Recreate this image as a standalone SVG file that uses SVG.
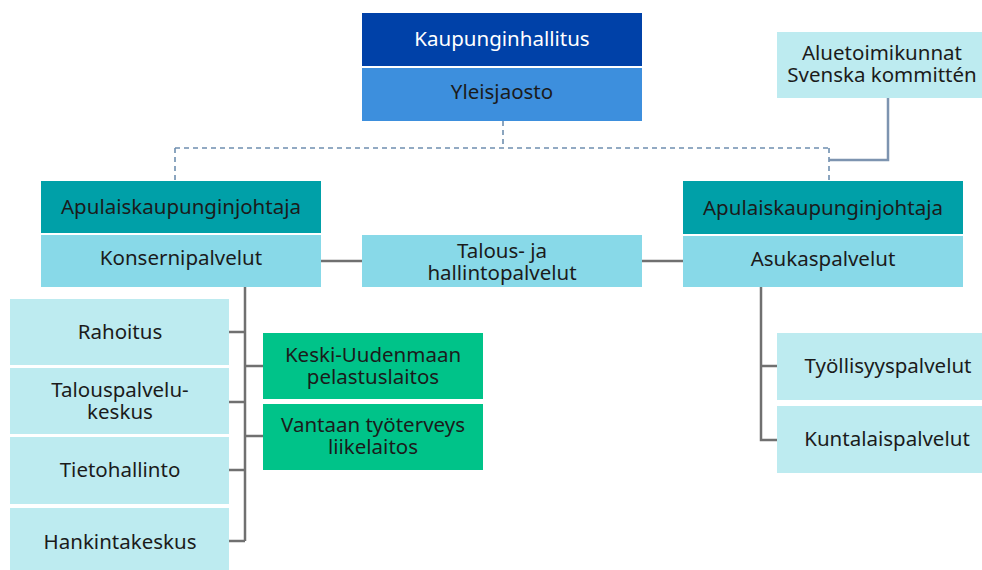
<svg xmlns="http://www.w3.org/2000/svg" width="982" height="570" viewBox="0 0 982 570">
<style>
text{font-family:"Noto Sans","Liberation Sans",sans-serif;font-size:20.5px;fill:#1b1b1b;text-anchor:middle}
.w{fill:#ffffff}
.lb{fill:#bdebf0}
.md{fill:#88d9e8}
.tl{fill:#00a0a8}
.gr{fill:#00c389}
.c{stroke:#707070;stroke-width:2.5;fill:none}
.d{stroke:#6f8fb0;stroke-width:1.6;fill:none;stroke-dasharray:5 4}
.s{stroke:#7d94b0;stroke-width:2.5;fill:none}
</style>
<g id="connectors">
<path class="d" d="M503 121V148M175 148H829M175 148V181M829 148V181"/>
<path class="s" d="M888 98V160H829"/>
<path class="c" d="M321 261H362M642 261H683"/>
<path class="c" d="M245 287V541M229 332H245M229 402H245M229 470H245M229 541H245M245 366H263M245 436H263"/>
<path class="c" d="M761 287V440H777M761 366H777"/>
</g>
<g id="kaupunginhallitus"><rect x="362" y="13" width="280" height="53" fill="#0041a8"/><text class="w" x="502" y="46">Kaupunginhallitus</text></g>
<g id="yleisjaosto"><rect x="362" y="68" width="280" height="53" fill="#3d8fdd"/><text x="502" y="99">Yleisjaosto</text></g>
<g id="aluetoimikunnat"><rect class="lb" x="777" y="32" width="210" height="66"/><text x="882" y="60">Aluetoimikunnat</text><text x="882" y="82">Svenska kommittén</text></g>
<g id="apulais-left"><rect class="tl" x="41" y="181" width="280" height="52"/><text x="181" y="214">Apulaiskaupunginjohtaja</text></g>
<g id="konsernipalvelut"><rect class="md" x="41" y="235" width="280" height="52"/><text x="181" y="265">Konsernipalvelut</text></g>
<g id="talous"><rect class="md" x="362" y="235" width="280" height="52"/><text x="502" y="258">Talous- ja</text><text x="502" y="280">hallintopalvelut</text></g>
<g id="apulais-right"><rect class="tl" x="683" y="181" width="280" height="53"/><text x="823" y="215">Apulaiskaupunginjohtaja</text></g>
<g id="asukaspalvelut"><rect class="md" x="683" y="236" width="280" height="51"/><text x="823" y="266">Asukaspalvelut</text></g>
<g id="rahoitus"><rect class="lb" x="10" y="299" width="219" height="66"/><text x="120" y="339">Rahoitus</text></g>
<g id="talouspalvelukeskus"><rect class="lb" x="10" y="368" width="219" height="66"/><text x="120" y="397">Talouspalvelu-</text><text x="120" y="419">keskus</text></g>
<g id="tietohallinto"><rect class="lb" x="10" y="437" width="219" height="67"/><text x="120" y="477">Tietohallinto</text></g>
<g id="hankintakeskus"><rect class="lb" x="10" y="508" width="219" height="62"/><text x="120" y="549">Hankintakeskus</text></g>
<g id="pelastuslaitos"><rect class="gr" x="263" y="333" width="220" height="66"/><text x="373" y="362">Keski-Uudenmaan</text><text x="373" y="384">pelastuslaitos</text></g>
<g id="tyoterveys"><rect class="gr" x="263" y="404" width="220" height="66"/><text x="373" y="432">Vantaan työterveys</text><text x="373" y="454">liikelaitos</text></g>
<g id="tyollisyyspalvelut"><rect class="lb" x="777" y="333" width="210" height="67"/><text x="888" y="373">Työllisyyspalvelut</text></g>
<g id="kuntalaispalvelut"><rect class="lb" x="777" y="406" width="210" height="67"/><text x="887" y="446">Kuntalaispalvelut</text></g>
</svg>
